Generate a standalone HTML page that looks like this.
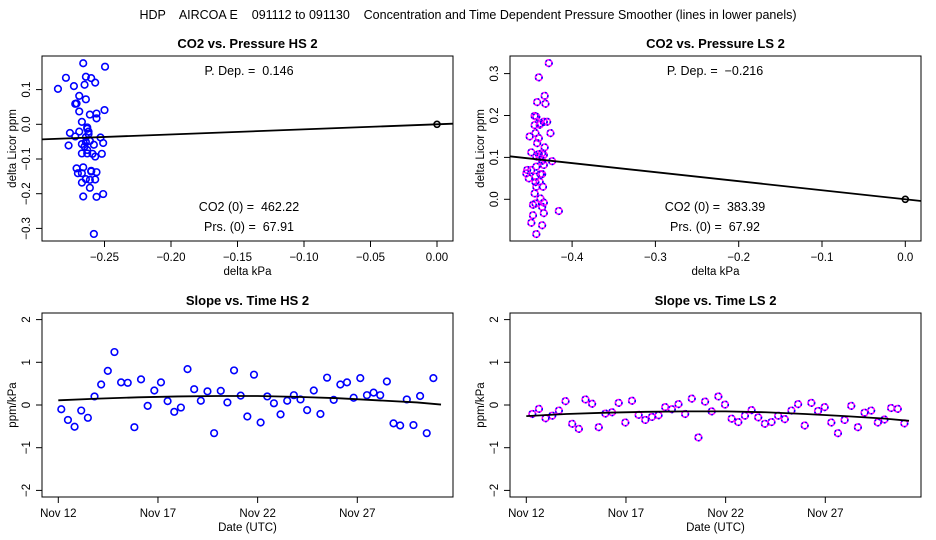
<!DOCTYPE html>
<html><head><meta charset="utf-8"><style>
html,body{margin:0;padding:0;background:#fff}
svg{display:block;font-family:"Liberation Sans",sans-serif}
svg text{white-space:pre}
</style></head><body>
<svg id="c" width="936" height="540" viewBox="0 0 936 540">
<text x="468" y="19" text-anchor="middle" font-size="12.5" xml:space="preserve">HDP    AIRCOA E    091112 to 091130    Concentration and Time Dependent Pressure Smoother (lines in lower panels)</text>
</svg>
<script>
// ---- data: top-left (HS) ----
const hsPx=[-0.266,-0.2496,-0.279,-0.264,-0.260,-0.257,-0.285,-0.273,-0.265,-0.269,-0.264,-0.272,-0.271,-0.269,-0.250,-0.261,-0.256,-0.256,-0.267,-0.263,-0.263,-0.262,-0.276,-0.269,-0.272,-0.253,-0.262,-0.264,-0.277,-0.267,-0.264,-0.258,-0.251,-0.261,-0.265,-0.263,-0.267,-0.263,-0.259,-0.257,-0.252,-0.271,-0.266,-0.270,-0.267,-0.260,-0.260,-0.256,-0.264,-0.261,-0.257,-0.267,-0.261,-0.266,-0.256,-0.251,-0.258];
const hsPy=[0.176,0.166,0.134,0.137,0.133,0.120,0.102,0.110,0.114,0.082,0.072,0.059,0.060,0.037,0.041,0.028,0.031,0.017,0.007,-0.009,-0.013,-0.021,-0.025,-0.021,-0.035,-0.038,-0.028,-0.037,-0.061,-0.057,-0.051,-0.059,-0.054,-0.048,-0.064,-0.074,-0.084,-0.084,-0.085,-0.093,-0.085,-0.127,-0.124,-0.141,-0.141,-0.134,-0.136,-0.138,-0.158,-0.160,-0.159,-0.168,-0.183,-0.208,-0.209,-0.201,-0.316];
const hsSlope=0.146;
// ---- data: top-right (LS) ----
const lsPx=[-0.428,-0.440,-0.433,-0.432,-0.442,-0.445,-0.443,-0.430,-0.438,-0.434,-0.439,-0.445,-0.426,-0.451,-0.444,-0.440,-0.442,-0.433,-0.449,-0.440,-0.436,-0.434,-0.443,-0.439,-0.436,-0.424,-0.434,-0.443,-0.455,-0.449,-0.452,-0.454,-0.438,-0.436,-0.444,-0.435,-0.439,-0.444,-0.443,-0.445,-0.438,-0.434,-0.447,-0.444,-0.436,-0.416,-0.447,-0.434,-0.449,-0.436,-0.443];
const lsPy=[0.325,0.291,0.247,0.228,0.232,0.199,0.197,0.185,0.181,0.185,0.178,0.177,0.158,0.150,0.158,0.146,0.134,0.124,0.112,0.108,0.110,0.106,0.102,0.100,0.092,0.091,0.082,0.078,0.062,0.070,0.050,0.070,0.060,0.060,0.054,0.030,0.042,0.041,0.030,0.014,0.002,-0.008,-0.013,-0.010,-0.018,-0.028,-0.038,-0.033,-0.056,-0.062,-0.083];
const lsSlope=-0.216;
// ---- data: bottom panels (slope vs time) ----
const hsStart=12.15, lsStart=12.30, stepDays=1/3;
const hsSlopes=[-0.10,-0.35,-0.51,-0.13,-0.30,0.20,0.48,0.80,1.24,0.53,0.52,-0.52,0.60,-0.02,0.34,0.53,0.09,-0.16,-0.06,0.84,0.37,0.10,0.32,-0.66,0.33,0.06,0.81,0.22,-0.27,0.71,-0.41,0.20,0.04,-0.22,0.10,0.23,0.13,-0.12,0.34,-0.21,0.64,0.12,0.48,0.53,0.17,0.63,0.23,0.29,0.23,0.55,-0.43,-0.48,0.13,-0.47,0.21,-0.66,0.63];
const lsSlopes=[-0.21,-0.09,-0.31,-0.25,-0.13,0.09,-0.44,-0.56,0.13,0.03,-0.52,-0.20,-0.17,0.05,-0.41,0.10,-0.23,-0.35,-0.28,-0.24,-0.05,-0.10,0.02,-0.21,0.15,-0.76,0.08,-0.15,0.20,0.01,-0.32,-0.40,-0.25,-0.12,-0.29,-0.44,-0.40,-0.25,-0.33,-0.13,0.02,-0.48,0.05,-0.14,-0.05,-0.41,-0.66,-0.35,-0.02,-0.52,-0.18,-0.13,-0.41,-0.34,-0.07,-0.09,-0.43];
const smoothDays=[12.0,14,16,18,20,22,24,26,28,30,31.2];
const hsSmooth=[0.11,0.15,0.18,0.20,0.21,0.21,0.19,0.16,0.11,0.06,0.01];
const lsSmooth=[-0.26,-0.21,-0.18,-0.16,-0.15,-0.15,-0.17,-0.21,-0.26,-0.32,-0.37];
const dateTicks=[12,17,22,27];
const dateLabels=["Nov 12","Nov 17","Nov 22","Nov 27"];

const NS="http://www.w3.org/2000/svg", svg=document.getElementById('c');
function mk(tag,attrs,parent,txt){const e=document.createElementNS(NS,tag);for(const k in attrs)e.setAttribute(k,attrs[k]);if(txt!==undefined)e.textContent=txt;(parent||svg).appendChild(e);return e;}
function lin(d0,d1,r0,r1){return v=>r0+(v-d0)*(r1-r0)/(d1-d0);}

function panel(o){
  const g=mk('g',{});
  
  
  const b=o.box;
  const r=mk('rect',{x:b[0],y:b[1],width:b[2]-b[0],height:b[3]-b[1],fill:'none',stroke:'#000','stroke-width':1},g);
  
  const t=mk('text',{x:(b[0]+b[2])/2,y:b[1]-8,'text-anchor':'middle','font-size':13,'font-weight':'bold'},g,o.title);
  
  const xa=mk('g',{},g);
  const xs=o.xticks.map(o.X);
  mk('line',{x1:xs[0],x2:xs[xs.length-1],y1:b[3],y2:b[3],stroke:'#000'},xa);
  o.xticks.forEach((v,i)=>{const x=o.X(v);mk('line',{x1:x,x2:x,y1:b[3],y2:b[3]+6,stroke:'#000'},xa);
    const l=mk('text',{x:x,y:b[3]+20,'text-anchor':'middle','font-size':11.5},xa,o.xlabels[i]);
    });
  const xt=mk('text',{x:(b[0]+b[2])/2,y:b[3]+34,'text-anchor':'middle','font-size':11.5},g,o.xtitle);
  
  const ya=mk('g',{},g);
  const ys=o.yticks.map(o.Y);
  mk('line',{x1:b[0],x2:b[0],y1:ys[0],y2:ys[ys.length-1],stroke:'#000'},ya);
  o.yticks.forEach((v,i)=>{const y=o.Y(v);mk('line',{x1:b[0]-6,x2:b[0],y1:y,y2:y,stroke:'#000'},ya);
    const lx=b[0]-12;
    const l=mk('text',{x:lx,y:y,'text-anchor':'middle','font-size':11.5,transform:`rotate(-90 ${lx} ${y})`},ya,o.ylabels[i]);
    });
  const tx=b[0]-26,ty=(b[1]+b[3])/2;
  const yt=mk('text',{x:tx,y:ty,'text-anchor':'middle','font-size':11.5,transform:`rotate(-90 ${tx} ${ty})`},g,o.ytitle);
  
  return g;
}
function pt(g,x,y,ls){
  const c=mk('circle',{cx:x,cy:y,r:3.3,fill:'none',stroke:ls?'#f0f':'#00f','stroke-width':1.6},g);
  
  if(ls){const d=mk('circle',{cx:x,cy:y,r:3.3,fill:'none',stroke:'#00f','stroke-width':1.6,'stroke-dasharray':'1.5 2.5'},g);
    }
}
function fmt(v,d){return (v<0?'\u2212':'')+Math.abs(v).toFixed(d);}

(function(){
  const box=[42,56,453,241];
  const X=lin(0,-0.05,437,370.5), Y=lin(0,0.1,124.3,89.6);
  const xt=[-0.25,-0.20,-0.15,-0.10,-0.05,0];const yt=[-0.3,-0.2,-0.1,0,0.1];
  const g=panel({name:'panel-co2-pressure-hs',box,X,Y,title:'CO2 vs. Pressure HS 2',xticks:xt,xlabels:xt.map(v=>fmt(v,2)),yticks:yt,ylabels:yt.map(v=>fmt(v,1)),xtitle:'delta kPa',ytitle:'delta Licor ppm'});
  hsPx.forEach((v,i)=>pt(g,X(v),Y(hsPy[i]),false));
  const x0=-0.297,x1=0.012;
  const l=mk('line',{x1:X(x0),y1:Y(hsSlope*x0),x2:X(x1),y2:Y(hsSlope*x1),stroke:'#000','stroke-width':1.8},g);
  
  mk('circle',{cx:X(0),cy:Y(0),r:3,fill:'none',stroke:'#000','stroke-width':1.6},g);
  const cx=249;
  [['P. Dep. =  0.146',75],['CO2 (0) =  462.22',211],['Prs. (0) =  67.91',231]].forEach(a=>{const t=mk('text',{x:cx,y:a[1],'text-anchor':'middle','font-size':12.5},g,a[0]);});
})();
(function(){
  const box=[510,56,921,241];
  const X=lin(0,-0.1,905.3,822), Y=lin(0,0.1,199.3,157.4);
  const xt=[-0.4,-0.3,-0.2,-0.1,0];const yt=[0,0.1,0.2,0.3];
  const g=panel({name:'panel-co2-pressure-ls',box,X,Y,title:'CO2 vs. Pressure LS 2',xticks:xt,xlabels:xt.map(v=>fmt(v,1)),yticks:yt,ylabels:yt.map(v=>fmt(v,1)),xtitle:'delta kPa',ytitle:'delta Licor ppm'});
  lsPx.forEach((v,i)=>pt(g,X(v),Y(lsPy[i]),true));
  const x0=-0.475,x1=0.019;
  const l=mk('line',{x1:X(x0),y1:Y(lsSlope*x0),x2:X(x1),y2:Y(lsSlope*x1),stroke:'#000','stroke-width':1.8},g);
  
  mk('circle',{cx:X(0),cy:Y(0),r:3,fill:'none',stroke:'#000','stroke-width':1.6},g);
  const cx=715;
  [['P. Dep. =  \u22120.216',75],['CO2 (0) =  383.39',211],['Prs. (0) =  67.92',231]].forEach(a=>{const t=mk('text',{x:cx,y:a[1],'text-anchor':'middle','font-size':12.5},g,a[0]);});
})();
function bottom(off,name,title,start,vals,smooth,ls){
  const box=[42+off,313,453+off,497];
  const X=lin(12,27,58.3+off,357.3+off), Y=lin(0,1,405,362.3);
  const yt=[-2,-1,0,1,2];
  const g=panel({name,box,X,Y,title,xticks:dateTicks,xlabels:dateLabels,yticks:yt,ylabels:yt.map(v=>fmt(v,0)),xtitle:'Date (UTC)',ytitle:'ppm/kPa'});
  vals.forEach((v,i)=>pt(g,X(start+i*stepDays),Y(v),ls));
  const p=mk('polyline',{points:smoothDays.map((d,i)=>X(d)+','+Y(smooth[i])).join(' '),fill:'none',stroke:'#000','stroke-width':1.8},g);
  
}
bottom(0,'panel-slope-time-hs','Slope vs. Time HS 2',hsStart,hsSlopes,hsSmooth,false);
bottom(468,'panel-slope-time-ls','Slope vs. Time LS 2',lsStart,lsSlopes,lsSmooth,true);
</script>
</body></html>
